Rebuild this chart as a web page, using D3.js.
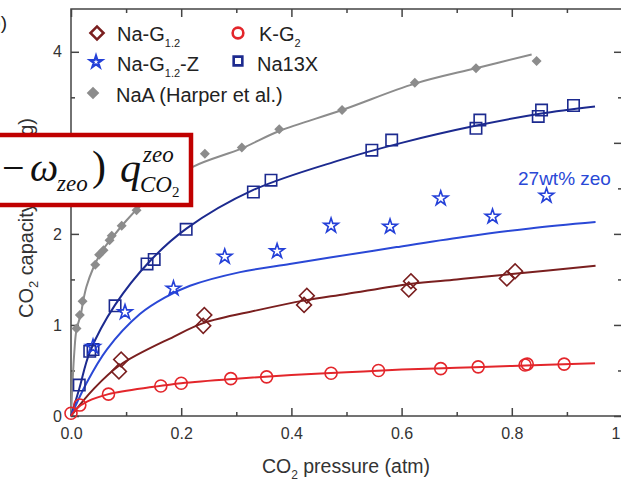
<!DOCTYPE html>
<html>
<head>
<meta charset="utf-8">
<script src="https://cdn.jsdelivr.net/npm/d3@7"></script>
<style>
    body { margin: 0; background: #fff; }
    svg { display: block; font-family: "Liberation Sans", Arial, sans-serif; }
</style>
</head>
<body>
<svg id="chart"></svg>
<script>
// measured points [pressure (atm), capacity]
const naG12Pts = [[0.087,0.49],[0.091,0.62],[0.240,0.99],[0.242,1.11],[0.423,1.22],[0.428,1.32],
    [0.613,1.39],[0.617,1.48],[0.791,1.51],[0.806,1.59]];
const naG12Fit = [[0,0],[0.04,0.29],[0.089,0.56],[0.186,0.87],[0.24,1.02],[0.337,1.16],[0.425,1.27],
    [0.5,1.34],[0.615,1.45],[0.7,1.50],[0.8,1.56],[0.952,1.65]];

const kG2Pts = [[0.0,0.03],[0.016,0.12],[0.068,0.24],[0.163,0.33],[0.2,0.36],[0.29,0.41],[0.355,0.43],
    [0.472,0.47],[0.558,0.50],[0.671,0.52],[0.739,0.54],[0.824,0.56],[0.828,0.57],[0.895,0.57]];
const kG2Fit = [[0,0],[0.01,0.08],[0.03,0.16],[0.068,0.24],[0.15,0.32],[0.2,0.36],[0.3,0.41],[0.4,0.45],
    [0.5,0.48],[0.6,0.51],[0.7,0.53],[0.8,0.55],[0.951,0.58]];

const naG12ZPts = [[0.040,0.76],[0.098,1.14],[0.186,1.40],[0.279,1.75],[0.374,1.81],[0.472,2.09],
    [0.579,2.08],[0.671,2.39],[0.765,2.19],[0.863,2.42]];
const naG12ZFit = [[0,0],[0.028,0.36],[0.065,0.73],[0.125,1.12],[0.17,1.30],[0.216,1.43],[0.307,1.58],
    [0.397,1.67],[0.470,1.74],[0.591,1.855],[0.712,1.965],[0.833,2.06],[0.952,2.13]];

const na13xPts = [[0.015,0.34],[0.034,0.71],[0.040,0.73],[0.080,1.21],[0.138,1.67],[0.151,1.72],
    [0.209,2.05],[0.331,2.46],[0.363,2.59],[0.546,2.92],[0.582,3.03],[0.735,3.16],[0.742,3.25],
    [0.848,3.29],[0.854,3.36],[0.912,3.41]];
const na13xFit = [[0,0],[0.015,0.3],[0.034,0.7],[0.08,1.22],[0.143,1.70],[0.21,2.06],[0.33,2.48],
    [0.488,2.81],[0.6,3.0],[0.736,3.19],[0.851,3.32],[0.951,3.40]];

const naaPts = [[0.010,0.96],[0.016,1.11],[0.021,1.26],[0.044,1.66],[0.051,1.77],[0.059,1.82],
    [0.070,1.93],[0.074,1.98],[0.092,2.09],[0.119,2.26],[0.243,2.88],[0.310,2.95],[0.378,3.15],
    [0.492,3.36],[0.624,3.66],[0.735,3.82],[0.845,3.90]];
const naaFit = [[0,0],[0.006,0.7],[0.01,0.95],[0.018,1.12],[0.022,1.26],[0.028,1.42],[0.04,1.62],
    [0.055,1.8],[0.071,1.93],[0.101,2.15],[0.125,2.30],[0.17,2.53],[0.222,2.74],[0.31,2.94],
    [0.378,3.13],[0.492,3.36],[0.624,3.65],[0.735,3.82],[0.836,3.97]];

const xMajor = [0, 0.2, 0.4, 0.6, 0.8, 1];
const xMinor = [0.1, 0.3, 0.5, 0.7, 0.9];
const yMajor = [0, 1, 2, 3, 4];
const yMinor = [0.5, 1.5, 2.5, 3.5];

const W = 621, H = 479;
const svg = d3.select("#chart").attr("width", W).attr("height", H);

const x = d3.scaleLinear().domain([0, 1]).range([71, 622]);
const y = d3.scaleLinear().domain([0, 4.47]).range([416, 9]);

const axisCol = "#444", textCol = "#333";

// y axis title (sits behind the red box)
svg.append("text")
    .attr("transform", "translate(33,318) rotate(-90)")
    .attr("font-size", 20).attr("fill", textCol)
    .attr("textLength", 200).attr("lengthAdjust", "spacing")
    .call(t => {
        t.append("tspan").text("CO");
        t.append("tspan").attr("font-size", 13).attr("dy", 5).text("2");
        t.append("tspan").attr("dy", -5).text(" capacity (mmol/g)");
    });

// frame
svg.append("rect")
    .attr("x", x(0)).attr("y", y.range()[1])
    .attr("width", x(1) - x(0)).attr("height", y(0) - y.range()[1])
    .attr("fill", "none").attr("stroke", axisCol).attr("stroke-width", 1.5);

function styleAxis(g) {
    g.select(".domain").remove();
    g.selectAll(".tick line").attr("stroke", axisCol).attr("stroke-width", 1.5);
    g.selectAll(".tick text").attr("fill", textCol).attr("font-size", 16)
        .attr("font-family", "Liberation Sans, Arial, sans-serif");
}

svg.append("g").attr("transform", `translate(0,${y(0)})`)
    .call(d3.axisBottom(x).tickValues(xMajor).tickSize(-8).tickPadding(12)
        .tickFormat(d => d3.format(".1f")(d)))
    .call(styleAxis);
svg.append("g").attr("transform", `translate(0,${y(0)})`)
    .call(d3.axisBottom(x).tickValues(xMinor).tickSize(-4).tickFormat(""))
    .call(styleAxis);
svg.append("g").attr("transform", `translate(0,${y.range()[1]})`)
    .call(d3.axisTop(x).tickValues(xMajor).tickSize(-8).tickFormat(""))
    .call(styleAxis);
svg.append("g").attr("transform", `translate(0,${y.range()[1]})`)
    .call(d3.axisTop(x).tickValues(xMinor).tickSize(-4).tickFormat(""))
    .call(styleAxis);

svg.append("g").attr("transform", `translate(${x(0)},0)`)
    .call(d3.axisLeft(y).tickValues(yMajor).tickSize(-8).tickPadding(9).tickFormat(d3.format("d")))
    .call(styleAxis);
svg.append("g").attr("transform", `translate(${x(0)},0)`)
    .call(d3.axisLeft(y).tickValues(yMinor).tickSize(-4).tickFormat(""))
    .call(styleAxis);
svg.append("g").attr("transform", `translate(${x(1)},0)`)
    .call(d3.axisRight(y).tickValues(yMajor).tickSize(-8).tickFormat(""))
    .call(styleAxis);
svg.append("g").attr("transform", `translate(${x(1)},0)`)
    .call(d3.axisRight(y).tickValues(yMinor).tickSize(-4).tickFormat(""))
    .call(styleAxis);

// x axis title
svg.append("text")
    .attr("x", 346).attr("y", 473).attr("text-anchor", "middle")
    .attr("font-size", 19.5).attr("fill", textCol)
    .call(t => {
        t.append("tspan").text("CO");
        t.append("tspan").attr("font-size", 12).attr("dy", 6).text("2");
        t.append("tspan").attr("dy", -6).text(" pressure (atm)");
    });

// fitted curves
const line = d3.line().x(d => x(d[0])).y(d => y(d[1])).curve(d3.curveCatmullRom.alpha(0.5));
const fits = [
    { data: naaFit, color: "#8c8c8c" },
    { data: na13xFit, color: "#1c2a8f" },
    { data: naG12ZFit, color: "#2a48d6" },
    { data: naG12Fit, color: "#7a1f1f" },
    { data: kG2Fit, color: "#e3262b" }
];
svg.append("g").selectAll("path").data(fits).join("path")
    .attr("d", d => line(d.data))
    .attr("fill", "none").attr("stroke", d => d.color).attr("stroke-width", 2);

// markers
function drawPts(data, type, size, color, filled, rot) {
    svg.append("g").selectAll("path").data(data).join("path")
        .attr("d", d3.symbol(type, size))
        .attr("transform", d => `translate(${x(d[0])},${y(d[1])}) rotate(${rot})`)
        .attr("fill", filled ? color : "none")
        .attr("stroke", filled ? "none" : color)
        .attr("stroke-width", 1.6);
}
drawPts(naaPts, d3.symbolSquare, 50, "#8c8c8c", true, 45);
drawPts(na13xPts, d3.symbolSquare, 130, "#1c2a8f", false, 0);
drawPts(naG12ZPts, d3.symbolStar, 65, "#2440d8", false, 0);
drawPts(naG12Pts, d3.symbolSquare, 110, "#7a1f1f", false, 45);
drawPts(kG2Pts, d3.symbolCircle, 113, "#e3262b", false, 0);

// annotation
svg.append("text").attr("x", 518).attr("y", 185)
    .attr("font-size", 19).attr("fill", "#2a48d6").text("27wt% zeo");

// legend
const legend = [
    { name: "Na-G", sub: "1.2", tail: "", type: d3.symbolSquare, size: 85, rot: 45, color: "#7a1f1f", filled: false, lx: 97, ly: 33, tx: 117, ty: 41 },
    { name: "K-G", sub: "2", tail: "", type: d3.symbolCircle, size: 90, rot: 0, color: "#e3262b", filled: false, lx: 238, ly: 33, tx: 259, ty: 41 },
    { name: "Na-G", sub: "1.2", tail: "-Z", type: d3.symbolStar, size: 45, rot: 0, color: "#2440d8", filled: false, lx: 96, ly: 62, tx: 117, ty: 71 },
    { name: "Na13X", sub: "", tail: "", type: d3.symbolSquare, size: 75, rot: 0, color: "#1c2a8f", filled: false, lx: 238, ly: 61, tx: 257, ty: 71 },
    { name: "NaA (Harper et al.)", sub: "", tail: "", type: d3.symbolSquare, size: 80, rot: 45, color: "#8c8c8c", filled: true, lx: 93, ly: 93, tx: 116, ty: 102 }
];
const lg = svg.append("g");
legend.forEach(l => {
    lg.append("path")
        .attr("d", d3.symbol(l.type, l.size))
        .attr("transform", `translate(${l.lx},${l.ly}) rotate(${l.rot})`)
        .attr("fill", l.filled ? l.color : "none")
        .attr("stroke", l.filled ? "none" : l.color)
        .attr("stroke-width", l.type === d3.symbolStar ? 2.2 : 2.6);
    const t = lg.append("text").attr("x", l.tx).attr("y", l.ty)
        .attr("font-size", 20).attr("fill", "#222");
    t.append("tspan").text(l.name);
    if (l.sub) t.append("tspan").attr("font-size", 11).attr("dy", 6).text(l.sub);
    if (l.tail) t.append("tspan").attr("dy", -6).text(l.tail);
});

// panel letter (cut at the left edge)
svg.append("text").attr("x", 7).attr("y", 29).attr("text-anchor", "end")
    .attr("font-size", 19).attr("fill", "#222").text("(b)");

// equation box
const eq = svg.append("g");
eq.append("rect").attr("x", -10).attr("y", 135).attr("width", 201).attr("height", 70)
    .attr("fill", "#fff").attr("stroke", "#c00000").attr("stroke-width", 4.5);
const serif = "Liberation Serif, Times New Roman, serif";
const eqParts = [
    { s: "\u2212", x: 2, y: 181, size: 40, it: false },
    { s: "\u03c9", x: 30, y: 181, size: 40, it: true },
    { s: "zeo", x: 57, y: 191, size: 23, it: true },
    { s: ")", x: 92, y: 180, size: 42, it: false },
    { s: "q", x: 120, y: 182, size: 42, it: true },
    { s: "zeo", x: 143, y: 162, size: 23, it: true },
    { s: "CO", x: 140, y: 192, size: 23, it: true },
    { s: "2", x: 172, y: 197, size: 15, it: false }
];
eq.selectAll("text").data(eqParts).join("text")
    .attr("x", d => d.x).attr("y", d => d.y)
    .attr("font-family", serif).attr("font-size", d => d.size)
    .attr("font-style", d => d.it ? "italic" : "normal")
    .attr("fill", "#111").text(d => d.s);
</script>
</body>
</html>
